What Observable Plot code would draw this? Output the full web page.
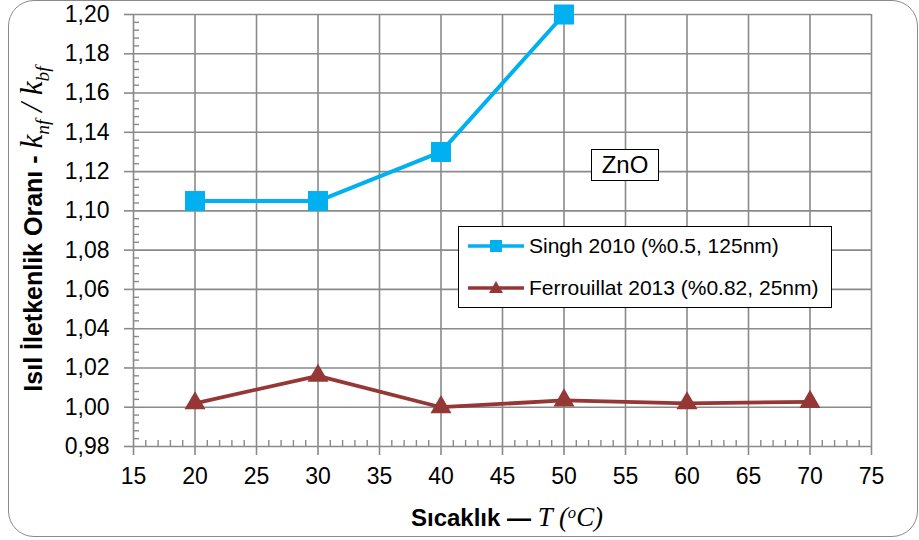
<!DOCTYPE html>
<html>
<head>
<meta charset="utf-8">
<script src="https://cdn.jsdelivr.net/npm/d3@7"></script>
<script src="https://cdn.jsdelivr.net/npm/@observablehq/plot@0.6"></script>
<style>
  html, body { margin: 0; padding: 0; background: #fff; }
  #wrap { position: relative; width: 919px; height: 540px; font-family: "Liberation Sans", Arial, sans-serif; overflow: hidden; }
  #chart svg { display: block; }
  .frame { position: absolute; left: 8px; top: 0px; width: 910px; height: 537px; box-sizing: border-box; border: 1.5px solid #8a8a8a; border-radius: 26px; pointer-events: none; }
  .ylabel { position: absolute; left: 34px; top: 229px; transform: translate(-50%, -50%) rotate(-90deg); white-space: nowrap; font-size: 25px; color: #000; }
  .xlabel { position: absolute; left: 507px; top: 502px; transform: translateX(-50%); white-space: nowrap; font-size: 24px; color: #000; }
  .math { font-family: "Liberation Serif", "DejaVu Serif", serif; font-style: italic; font-weight: normal; }
  .ylabel .math { font-size: 1.25em; }
  .xlabel .math { font-size: 1.12em; }
  .math sub { font-size: 0.62em; vertical-align: -0.35em; }
  .math sup { font-size: 0.62em; vertical-align: 0.5em; }
  .legend { position: absolute; left: 458px; top: 226px; width: 374px; height: 82px; box-sizing: border-box; border: 1.5px solid #000; background: #fff; font-size: 21px; }
  .legend .row { position: absolute; left: 9px; height: 24px; display: flex; align-items: center; white-space: nowrap; }
  .legend svg { margin-right: 5px; }
  .znobox { position: absolute; left: 591px; top: 149px; width: 68px; height: 32px; box-sizing: border-box; border: 1.5px solid #000; background: #fff; font-size: 24px; display: flex; align-items: center; justify-content: center; }
</style>
</head>
<body>
<div id="wrap">
  <div id="chart"></div>
  <div class="legend" id="legend"></div>
  <div class="znobox" id="zno"></div>
  <div class="ylabel"><b>Isıl İletkenlik Oranı - </b><span class="math">k<sub>nf</sub> / k<sub>bf</sub></span></div>
  <div class="xlabel"><b>Sıcaklık — </b><span class="math">T (<sup>o</sup>C)</span></div>
  <div class="frame"></div>
</div>
<script>
// ---- Data ----
const singhT = [20, 30, 40, 50];
const singhK = [1.105, 1.105, 1.130, 1.200];
const ferrT = [20, 30, 40, 50, 60, 70];
const ferrK = [1.002, 1.016, 1.000, 1.0035, 1.002, 1.0027];
const seriesNames = ["Singh 2010 (%0.5, 125nm)", "Ferrouillat 2013 (%0.82, 25nm)"];
const seriesColors = ["#00B0F0", "#953735"];
const annotation = "ZnO";
const xTicks = [15, 20, 25, 30, 35, 40, 45, 50, 55, 60, 65, 70, 75];
const yTicks = [0.98, 1.00, 1.02, 1.04, 1.06, 1.08, 1.10, 1.12, 1.14, 1.16, 1.18, 1.20];
const xMinor = d3.range(16, 75, 1).filter(v => v % 5 !== 0);
const yMinor = d3.range(0, 56, 1).filter(i => i % 5 !== 0).map(i => 0.98 + i * 0.004);

const singh = singhT.map((t, i) => ({t, k: singhK[i]}));
const ferr = ferrT.map((t, i) => ({t, k: ferrK[i]}));

// ---- Layout ----
const W = 919, H = 540;
const mL = 133, mR = 48, mT = 14, mB = 94;
const innerW = W - mL - mR, innerH = H - mT - mB;
const gridColor = "#8a8a8a";

const fmt = d => d.toFixed(2).replace(".", ",");

const chart = Plot.plot({
  width: W,
  height: H,
  marginLeft: mL,
  marginRight: mR,
  marginTop: mT,
  marginBottom: mB,
  style: { fontFamily: "'Liberation Sans', Arial, sans-serif", color: "#000", background: "transparent", overflow: "visible" },
  x: { domain: [15, 75], ticks: xTicks, label: null },
  y: { domain: [0.98, 1.20], ticks: yTicks, label: null },
  marks: [
    Plot.gridX(xTicks, { stroke: gridColor, strokeOpacity: 1, strokeWidth: 1.6 }),
    Plot.gridY(yTicks, { stroke: gridColor, strokeOpacity: 1, strokeWidth: 1.6 }),
    Plot.tickY(yMinor, { y: d => d, stroke: gridColor, strokeWidth: 1.4, insetRight: innerW - 6 }),
    Plot.tickX(xMinor, { x: d => d, stroke: gridColor, strokeWidth: 1.4, insetTop: innerH - 6 }),
    Plot.axisY(yTicks, { tickFormat: fmt, tickSize: 9, tickPadding: 15, fontSize: 23, stroke: gridColor, strokeWidth: 1.6, fill: "#000", label: null }),
    Plot.axisX(xTicks, { tickFormat: d => String(d), tickSize: 9, tickPadding: 12, fontSize: 23, stroke: gridColor, strokeWidth: 1.6, fill: "#000", label: null }),
    Plot.line(singh, { x: "t", y: "k", stroke: seriesColors[0], strokeWidth: 4 }),
    Plot.dot(singh, { x: "t", y: "k", symbol: "square", r: 11.3, fill: seriesColors[0], stroke: null }),
    Plot.line(ferr, { x: "t", y: "k", stroke: seriesColors[1], strokeWidth: 3.8 }),
    Plot.dot(ferr, { x: "t", y: "k", symbol: "triangle", r: 7.8, fill: seriesColors[1], stroke: null })
  ]
});
document.getElementById("chart").appendChild(chart);

// ---- Legend ----
const legend = document.getElementById("legend");
const rowTops = [7, 49];
seriesNames.forEach((name, i) => {
  const row = document.createElement("div");
  row.className = "row";
  row.style.top = rowTops[i] + "px";
  const marker = i === 0
    ? `<rect x="22" y="6" width="12" height="12" fill="${seriesColors[i]}"/>`
    : `<path d="M28,5 L35,17 L21,17 Z" fill="${seriesColors[i]}"/>`;
  row.innerHTML = `<svg width="56" height="24"><line x1="0" y1="12" x2="56" y2="12" stroke="${seriesColors[i]}" stroke-width="3.5"/>${marker}</svg><span>${name}</span>`;
  legend.appendChild(row);
});
document.getElementById("zno").textContent = annotation;
</script>
</body>
</html>
